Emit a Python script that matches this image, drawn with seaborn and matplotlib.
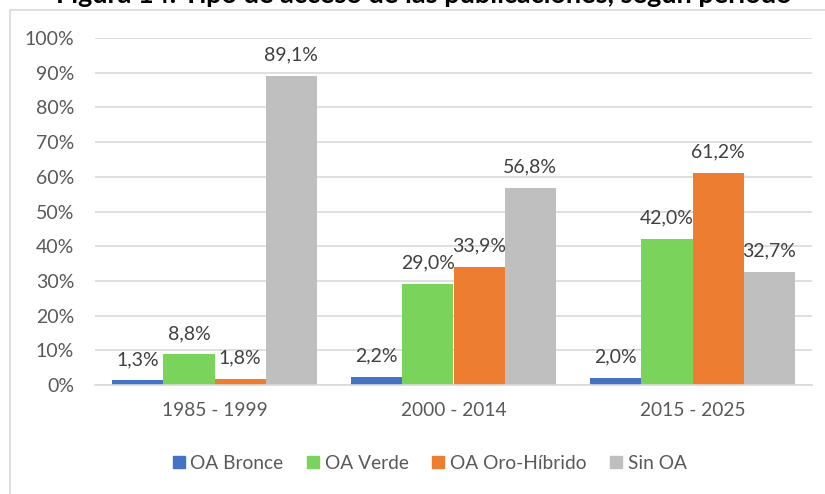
import matplotlib
matplotlib.use("Agg")
import matplotlib.pyplot as plt
from matplotlib.lines import Line2D
import seaborn as sns
import pandas as pd

periods = ["1985 - 1999", "2000 - 2014", "2015 - 2025"]
series = ["OA Bronce", "OA Verde", "OA Oro-Híbrido", "Sin OA"]
oa_bronce = [1.3, 2.2, 2.0]
oa_verde = [8.8, 29.0, 42.0]
oa_oro_hibrido = [1.8, 33.9, 61.2]
sin_oa = [89.1, 56.8, 32.7]
y_ticks = [0, 10, 20, 30, 40, 50, 60, 70, 80, 90, 100]
title = "Figura 14: Tipo de acceso de las publicaciones, según período"

colors = ["#4472C4", "#7AD35A", "#ED7D31", "#BFBFBF"]

rows = []
for s, vals in zip(series, [oa_bronce, oa_verde, oa_oro_hibrido, sin_oa]):
    for p, v in zip(periods, vals):
        rows.append({"Periodo": p, "Serie": s, "Valor": v})
df = pd.DataFrame(rows)

sns.set_theme(style="white")
plt.rcParams["font.family"] = ["Lato", "DejaVu Sans"]

fig = plt.figure(figsize=(8.25, 4.94), dpi=100)
ax = fig.add_axes([95 / 825, 1 - 385 / 494, (812 - 95) / 825, 347 / 494])

sns.barplot(data=df, x="Periodo", y="Valor", hue="Serie", order=periods,
            hue_order=series, palette=colors, width=0.855, saturation=1,
            ax=ax, legend=False, edgecolor="none", linewidth=0)

for cont in ax.containers:
    labels = [f"{b.get_height():.1f}%".replace(".", ",") for b in cont]
    ax.bar_label(cont, labels=labels, padding=9, fontsize=14, color="#404040")

ax.set_ylim(0, 100)
ax.set_xlim(-0.5, 2.5)
ax.set_yticks(y_ticks)
ax.set_yticklabels([f"{t}%" for t in y_ticks], fontsize=14, color="#595959")
ax.tick_params(axis="x", labelsize=13.8, colors="#595959", length=0, pad=12)
ax.tick_params(axis="y", length=0, pad=15)
ax.set_xlabel("")
ax.set_ylabel("")
ax.yaxis.grid(True, color="#D9D9D9", linewidth=1.2)
ax.set_axisbelow(True)
for side in ["top", "right", "left"]:
    ax.spines[side].set_visible(False)
ax.spines["bottom"].set_color("#D9D9D9")
ax.spines["bottom"].set_linewidth(1.2)

handles = [Line2D([0], [0], marker="s", linestyle="none", markersize=8.5,
                  markerfacecolor=c, markeredgecolor=c) for c in colors]
fig.legend(handles, series, loc="center", bbox_to_anchor=(0.521, 1 - 463 / 494),
           ncol=4, frameon=False, fontsize=13.8, handlelength=0.6,
           handletextpad=0.3, columnspacing=1.25, labelcolor="#595959")

# chart border (left and top visible)
fig.add_artist(Line2D([10 / 825, 10 / 825], [0, 1 - 10 / 494],
                      transform=fig.transFigure, color="#D9D9D9", linewidth=1.2))
fig.add_artist(Line2D([10 / 825, 1], [1 - 10 / 494, 1 - 10 / 494],
                      transform=fig.transFigure, color="#D9D9D9", linewidth=1.2))

fig.text(424 / 825, 1 - 3 / 494, title, ha="center", va="baseline",
         fontsize=19.5, fontweight="bold", color="black")

fig.savefig("out.png", dpi=100)
